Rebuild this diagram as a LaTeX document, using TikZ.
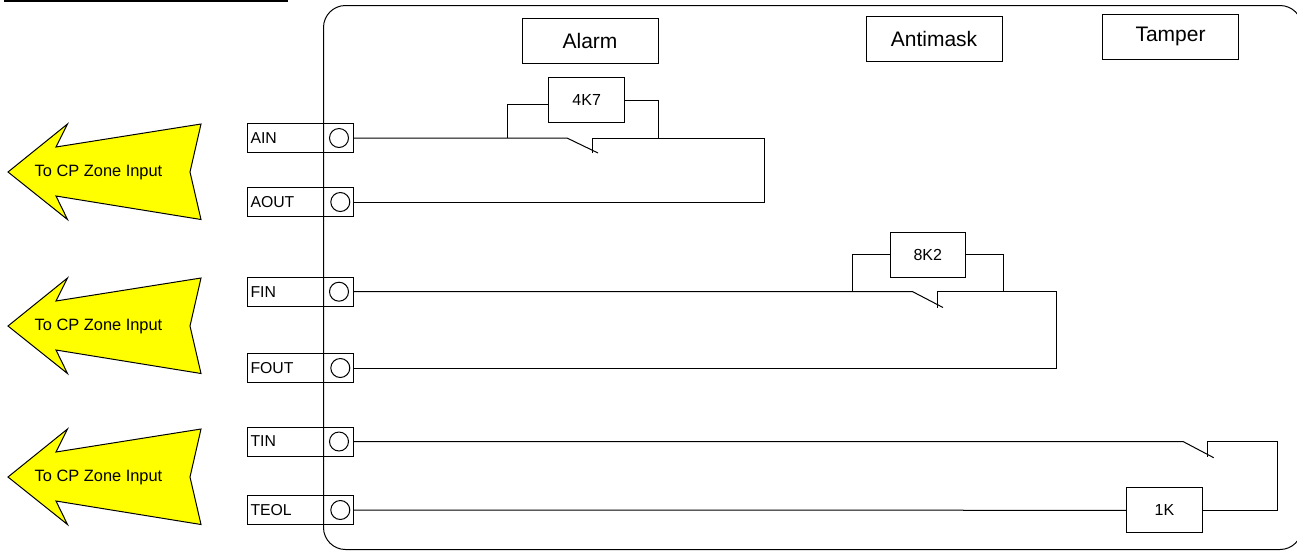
\documentclass[tikz,border=0pt]{standalone}
\usepackage{fontspec}
\setmainfont{Liberation Sans}
\definecolor{zoneyellow}{RGB}{255,255,0}
\tikzset{
  x=1pt,y=-1pt,
  box/.style={draw,rectangle,inner sep=0pt,fill=white,minimum width=75.5pt,minimum height=45pt,font=\fontsize{16}{18}\selectfont},
  title/.style={draw,rectangle,inner sep=0pt,fill=white,minimum width=136pt,minimum height=45pt,font=\fontsize{21}{24}\selectfont},
  termbox/.style={draw,rectangle,inner sep=0pt,minimum width=106pt,minimum height=29pt},
  tlabel/.style={inner sep=0pt,anchor=west,font=\fontsize{15.8}{18}\selectfont},
  term/.style={draw,circle,inner sep=0pt,minimum size=19pt},
  arrowlabel/.style={inner sep=0pt,font=\fontsize{16.4}{18}\selectfont},
}
\newcommand{\zonearrow}[2]{%
  \draw[fill=zoneyellow,line join=miter] (8,#1) -- (67.5,#1-48) -- (56,#1-25) -- (201,#1-48) -- (190,#1) -- (201,#1+47.5) -- (56,#1+24) -- (67.5,#1+47.5) -- cycle;
  \node[arrowlabel] (#2) at (98.5,#1) {To CP Zone Input};
}
\newcommand{\terminal}[4]{%
  \node[termbox] (#2b) at (300.5,#1) {};
  \node[tlabel] (#2l) at (250,#1) {#3};
  \node[term] (#2) at (#4,#1) {};
}
\begin{document}
\begin{tikzpicture}[line width=1pt]
\useasboundingbox (0,0) rectangle (1297,550);
\clip (0,0) rectangle (1297,550);
\fill (4,0) rectangle (288,2);
\draw[rounded corners=22pt] (323.5,5.5) rectangle (1302,549.5);

\node[title] (alarm) at (590,40.5) {Alarm};
\node[title] (antimask) at (934,38.5) {Antimask};
\node[title] (tamper) at (1170.5,36.5) {Tamper};

\zonearrow{172}{za}
\zonearrow{326}{zb}
\zonearrow{477}{zc}

\terminal{138}{ain}{AIN}{339}
\terminal{202}{aout}{AOUT}{340.3}
\terminal{291.7}{fin}{FIN}{339}
\terminal{368}{fout}{FOUT}{340.3}
\terminal{441.5}{tin}{TIN}{339}
\terminal{510}{teol}{TEOL}{340.3}

\node[box] (r4) at (586.7,100) {4K7};
\node[box] (r8) at (927.8,254.8) {8K2};
\node[box] (r1) at (1164.5,510.3) {1K};

% alarm loop
\coordinate (a1) at (567,138); \coordinate (a2) at (592,138); \coordinate (a3) at (764,138);
\coordinate (a4) at (764,202); \coordinate (ab) at (598,153); \coordinate (ac) at (592,153);
\coordinate (al1) at (507,104); \coordinate (al2) at (507,138);
\coordinate (ar1) at (658.5,100); \coordinate (ar2) at (658.5,138);
\draw (ainb.east) -- (a1) -- (ab);
\draw (ac) -- (a2) -- (a3) -- (a4) -- (aoutb.east);
\draw (r4.west |- al1) -- (al1) -- (al2);
\draw (r4.east |- ar1) -- (ar1) -- (ar2);

% antimask loop
\coordinate (f1) at (912.7,291.7); \coordinate (f2) at (937,291.7); \coordinate (f3) at (1056,291.7);
\coordinate (f4) at (1056,368); \coordinate (fb) at (943,307.5); \coordinate (fc) at (937,307.5);
\coordinate (fl1) at (852,254.5); \coordinate (fl2) at (852,291.7);
\coordinate (fr1) at (1003,254.5); \coordinate (fr2) at (1003,291.7);
\draw (finb.east) -- (f1) -- (fb);
\draw (fc) -- (f2) -- (f3) -- (f4) -- (foutb.east);
\draw (r8.west |- fl1) -- (fl1) -- (fl2);
\draw (r8.east |- fr1) -- (fr1) -- (fr2);

% tamper loop
\coordinate (t1) at (1183,441.5); \coordinate (t2) at (1207.5,441.5); \coordinate (t3) at (1277.7,441.5);
\coordinate (t4) at (1277.7,510.3); \coordinate (tb) at (1213.7,457.7); \coordinate (tc) at (1207.5,457);
\draw (tinb.east) -- (t1) -- (tb);
\draw (tc) -- (t2) -- (t3) -- (t4) -- (r1.east);
\draw (teolb.east) -- (r1.west);
\end{tikzpicture}
\end{document}
